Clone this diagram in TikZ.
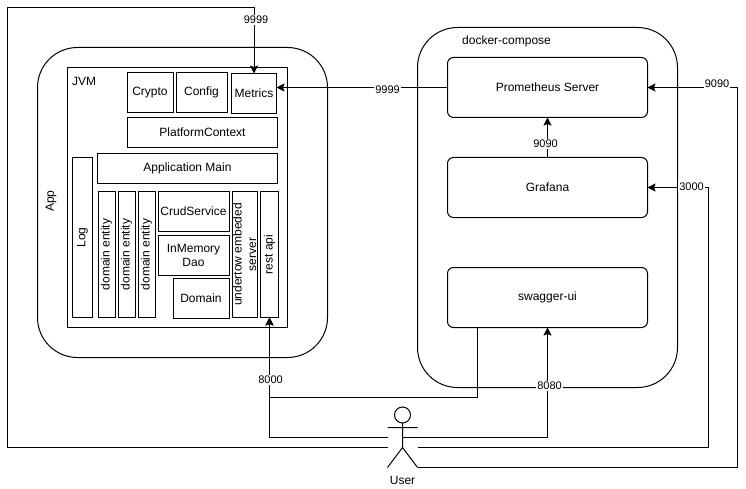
\documentclass[tikz,border=0pt]{standalone}
\usepackage{fontspec}
\setmainfont{Liberation Sans}
\usepackage{tikz}
\usetikzlibrary{arrows.meta}

\tikzset{
  x=1pt,y=-1pt,
  box/.style={draw,line width=1pt,outer sep=0pt,inner sep=0pt,align=center,
    font=\fontsize{12}{14.5}\selectfont},
  container/.style={box,rounded corners=40pt},
  service/.style={box,rounded corners=6pt,minimum width=200pt,minimum height=60pt},
  upright/.style={box,rotate=90},
  title/.style={inner sep=0pt,font=\fontsize{12}{14}\selectfont},
  port/.style={inner xsep=1pt,inner ysep=1pt,fill=white,font=\fontsize{11}{13}\selectfont},
  link/.style={line width=1pt,-{Stealth[length=8pt,width=8pt,inset=1.5pt]}}
}

\begin{document}
\begin{tikzpicture}
\path[fill=white,use as bounding box] (0,0) rectangle (746,489);

% containers
\node[container,minimum width=290pt,minimum height=310pt] (app) at (182.5,202.5) {};
\node[title,rotate=90] (applabel) at (51,201) {App};
\node[box,minimum width=220pt,minimum height=260pt] (jvm) at (177.5,197.5) {};
\node[title] (jvmlabel) at (84,81) {JVM};
\node[container,minimum width=260pt,minimum height=360pt] (compose) at (547.5,207.5) {};
\node[title,anchor=west] (composelabel) at (462,41) {docker-compose};

% jvm content
\node[box,minimum width=46pt,minimum height=40pt] (crypto) at (150,92.5) {Crypto};
\node[box,minimum width=51pt,minimum height=40pt] (config) at (201.5,92.5) {Config};
\node[box,minimum width=45pt,minimum height=40pt] (metrics) at (254,93.5) {Metrics};
\node[box,minimum width=150pt,minimum height=30pt] (context) at (202.5,132.5) {PlatformContext};
\node[box,minimum width=180pt,minimum height=30pt] (main) at (187.5,168.5) {Application Main};
\node[upright,minimum width=160pt,minimum height=20pt] (log) at (82.5,237.5) {Log};
\foreach \name/\xpos in {entitya/106.5,entityb/126.5,entityc/146.5}
  \node[upright,minimum width=126pt,minimum height=17pt] (\name) at (\xpos,254.5) {domain entity};
\node[box,minimum width=71pt,minimum height=40pt] (crud) at (193.5,211.5) {CrudService};
\node[box,minimum width=71pt,minimum height=40pt] (dao) at (193.5,255.5) {InMemory\\Dao};
\node[box,minimum width=56pt,minimum height=40pt] (domain) at (201,298.5) {Domain};
\node[upright,minimum width=126pt,minimum height=25pt] (undertow) at (244.5,254.5) {undertow embeded\\server};
\node[upright,minimum width=126pt,minimum height=18pt] (rest) at (269.5,254.5) {rest api};

% compose content
\node[service] (prometheus) at (547.5,87.5) {Prometheus Server};
\node[service] (grafana) at (547.5,187.5) {Grafana};
\node[service] (swagger) at (547.5,297.5) {swagger-ui};

% user
\node[draw,circle,line width=1pt,minimum size=16pt,inner sep=0pt,outer sep=0pt] (head) at (402.5,415) {};
\coordinate (hip) at (402.5,447.5);
\coordinate (armleft) at (387.5,427.5);
\coordinate (armright) at (417.5,427.5);
\coordinate (footleft) at (387.5,467.5);
\coordinate (footright) at (417.5,467.5);
\draw[line width=1pt] (head.south) -- (hip) (armleft) -- (armright)
  (footleft) -- (hip) -- (footright);
\node[title] (user) at (402.5,480) {User};

% free ends at the user
\coordinate (userleftlow) at (387.5,447.5);
\coordinate (userleftup) at (387.5,437.5);
\coordinate (usermid) at (402.5,437.5);
\coordinate (userright) at (417.5,447.5);
\coordinate (swaggerout) at ([xshift=-70pt]swagger.south);

% links
\draw[link] (userleftlow) -- (7.5,447.5) -- (7.5,7.5) -| (metrics.north);
\draw[link] (prometheus.west) -- (metrics.east |- prometheus.west);
\draw[link] (grafana.north) -- (prometheus.south);
\draw[link] (swaggerout) -- ++(0,70) -| (rest.west);
\draw[link] (userleftup) -| (rest.west);
\draw[link] (usermid) -| (swagger.south);
\draw[link] (userright) -- (708.5,447.5) |- (grafana.east);
\draw[link] (footright) -- (737.5,467.5) |- (prometheus.east);

% port labels
\node[port] (portmetrics) at (256,20) {9999};
\node[port] (portscrape) at (387.5,90) {9999};
\node[port] (portgrafana) at (545.5,144) {9090};
\node[port] (portrest) at (270.5,380) {8000};
\node[port] (portswagger) at (549.5,386) {8080};
\node[port] (portdash) at (691.5,187) {3000};
\node[port] (portprom) at (717,84) {9090};
\end{tikzpicture}
\end{document}
